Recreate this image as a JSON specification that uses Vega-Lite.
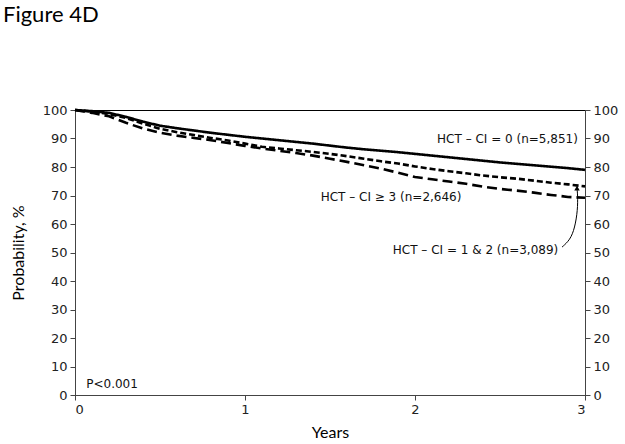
{
  "$schema": "https://vega.github.io/schema/vega-lite/v6.json",
  "width": 510,
  "height": 285,
  "autosize": "none",
  "padding": {"left": 75, "top": 110, "right": 40, "bottom": 49},
  "background": "white",
  "title": {"text": "Figure 4D", "anchor": "start", "frame": "group", "font": "Lato", "fontSize": 22, "fontWeight": "normal", "color": "#000", "dx": -72, "offset": 60, "baseline": "alphabetic"},
  "config": {
    "view": {"stroke": "#000", "strokeWidth": 1},
    "axis": {"grid": false, "domainColor": "#444", "tickColor": "#444", "tickSize": 5, "labelFont": "DejaVu Sans", "labelFontSize": 13, "labelColor": "#222", "titleFont": "Lato", "titleFontSize": 16, "titleFontWeight": "normal", "titleColor": "#000", "labelPadding": 3}
  },
  "datasets": {
    "curves": [
      {"g": "A", "t": 0, "v": 100}, {"g": "A", "t": 0.1, "v": 99.6}, {"g": "A", "t": 0.2, "v": 99.0}, {"g": "A", "t": 0.3, "v": 97.6}, {"g": "A", "t": 0.4, "v": 95.9}, {"g": "A", "t": 0.5, "v": 94.5}, {"g": "A", "t": 0.6, "v": 93.6}, {"g": "A", "t": 0.7, "v": 92.8}, {"g": "A", "t": 0.8, "v": 92.0}, {"g": "A", "t": 0.9, "v": 91.3}, {"g": "A", "t": 1.0, "v": 90.6}, {"g": "A", "t": 1.1, "v": 90.0}, {"g": "A", "t": 1.2, "v": 89.4}, {"g": "A", "t": 1.3, "v": 88.8}, {"g": "A", "t": 1.4, "v": 88.2}, {"g": "A", "t": 1.5, "v": 87.5}, {"g": "A", "t": 1.6, "v": 86.8}, {"g": "A", "t": 1.7, "v": 86.2}, {"g": "A", "t": 1.8, "v": 85.7}, {"g": "A", "t": 1.9, "v": 85.2}, {"g": "A", "t": 2.0, "v": 84.6}, {"g": "A", "t": 2.1, "v": 84.0}, {"g": "A", "t": 2.2, "v": 83.4}, {"g": "A", "t": 2.3, "v": 82.8}, {"g": "A", "t": 2.4, "v": 82.2}, {"g": "A", "t": 2.5, "v": 81.6}, {"g": "A", "t": 2.6, "v": 81.1}, {"g": "A", "t": 2.7, "v": 80.6}, {"g": "A", "t": 2.8, "v": 80.1}, {"g": "A", "t": 2.9, "v": 79.6}, {"g": "A", "t": 3.0, "v": 79.0},
      {"g": "B", "t": 0, "v": 100}, {"g": "B", "t": 0.1, "v": 99.4}, {"g": "B", "t": 0.2, "v": 98.6}, {"g": "B", "t": 0.3, "v": 97.2}, {"g": "B", "t": 0.4, "v": 95.2}, {"g": "B", "t": 0.5, "v": 93.4}, {"g": "B", "t": 0.6, "v": 92.2}, {"g": "B", "t": 0.7, "v": 91.2}, {"g": "B", "t": 0.8, "v": 90.2}, {"g": "B", "t": 0.9, "v": 89.3}, {"g": "B", "t": 1.0, "v": 88.2}, {"g": "B", "t": 1.1, "v": 87.1}, {"g": "B", "t": 1.2, "v": 86.5}, {"g": "B", "t": 1.3, "v": 85.9}, {"g": "B", "t": 1.4, "v": 85.3}, {"g": "B", "t": 1.5, "v": 84.6}, {"g": "B", "t": 1.6, "v": 83.8}, {"g": "B", "t": 1.7, "v": 82.9}, {"g": "B", "t": 1.8, "v": 82.0}, {"g": "B", "t": 1.9, "v": 81.2}, {"g": "B", "t": 2.0, "v": 80.2}, {"g": "B", "t": 2.1, "v": 79.3}, {"g": "B", "t": 2.2, "v": 78.5}, {"g": "B", "t": 2.3, "v": 77.8}, {"g": "B", "t": 2.4, "v": 77.0}, {"g": "B", "t": 2.5, "v": 76.4}, {"g": "B", "t": 2.6, "v": 75.9}, {"g": "B", "t": 2.7, "v": 75.2}, {"g": "B", "t": 2.8, "v": 74.5}, {"g": "B", "t": 2.9, "v": 73.9}, {"g": "B", "t": 3.0, "v": 73.2},
      {"g": "C", "t": 0, "v": 100}, {"g": "C", "t": 0.1, "v": 99.0}, {"g": "C", "t": 0.2, "v": 97.8}, {"g": "C", "t": 0.3, "v": 95.5}, {"g": "C", "t": 0.4, "v": 93.5}, {"g": "C", "t": 0.5, "v": 92.0}, {"g": "C", "t": 0.6, "v": 91.0}, {"g": "C", "t": 0.7, "v": 90.2}, {"g": "C", "t": 0.8, "v": 89.4}, {"g": "C", "t": 0.9, "v": 88.4}, {"g": "C", "t": 1.0, "v": 87.4}, {"g": "C", "t": 1.1, "v": 86.5}, {"g": "C", "t": 1.2, "v": 85.7}, {"g": "C", "t": 1.3, "v": 84.9}, {"g": "C", "t": 1.4, "v": 84.0}, {"g": "C", "t": 1.5, "v": 82.9}, {"g": "C", "t": 1.6, "v": 81.8}, {"g": "C", "t": 1.7, "v": 80.6}, {"g": "C", "t": 1.8, "v": 79.4}, {"g": "C", "t": 1.9, "v": 78.0}, {"g": "C", "t": 2.0, "v": 76.5}, {"g": "C", "t": 2.1, "v": 75.7}, {"g": "C", "t": 2.2, "v": 74.9}, {"g": "C", "t": 2.3, "v": 74.1}, {"g": "C", "t": 2.4, "v": 73.1}, {"g": "C", "t": 2.5, "v": 72.3}, {"g": "C", "t": 2.6, "v": 71.7}, {"g": "C", "t": 2.7, "v": 71.0}, {"g": "C", "t": 2.8, "v": 70.2}, {"g": "C", "t": 2.9, "v": 69.5}, {"g": "C", "t": 3.0, "v": 69.2}
    ],
    "labels": [
      {"t": 2.544, "v": 89.8, "label": "HCT – CI = 0 (n=5,851)"},
      {"t": 1.859, "v": 69.6, "label": "HCT – CI ≥ 3 (n=2,646)"},
      {"t": 2.356, "v": 51.0, "label": "HCT – CI = 1 & 2 (n=3,089)"},
      {"t": 0.218, "v": 3.9, "label": "P<0.001"}
    ],
    "arrow": [
      {"o": 1, "t": 2.865, "v": 51.9},
      {"o": 2, "t": 2.912, "v": 54.4},
      {"o": 3, "t": 2.940, "v": 58.6},
      {"o": 4, "t": 2.957, "v": 64.9},
      {"o": 5, "t": 2.957, "v": 70.2},
      {"o": 6, "t": 2.953, "v": 72.5}
    ],
    "head": [{"t": 2.953, "v": 72.6}]
  },
  "resolve": {"axis": {"y": "independent"}},
  "layer": [
    {
      "data": {"name": "curves"},
      "mark": {"type": "line", "color": "#000", "strokeWidth": 2.6},
      "encoding": {
        "x": {"field": "t", "type": "quantitative", "scale": {"domain": [0, 3], "nice": false}, "axis": {"title": "Years", "values": [0, 1, 2, 3], "format": "d", "titlePadding": 8}},
        "y": {"field": "v", "type": "quantitative", "scale": {"domain": [0, 100], "nice": false}, "axis": {"title": "Probability, %", "values": [0, 10, 20, 30, 40, 50, 60, 70, 80, 90, 100], "titlePadding": 16}},
        "detail": {"field": "g"},
        "strokeDash": {"field": "g", "type": "nominal", "scale": {"domain": ["A", "B", "C"], "range": [[1, 0], [6, 3], [10, 5]]}, "legend": null}
      }
    },
    {
      "data": {"name": "labels"},
      "mark": {"type": "text", "font": "DejaVu Sans", "fontSize": 12, "color": "#111", "align": "center", "baseline": "middle"},
      "encoding": {
        "x": {"field": "t", "type": "quantitative"},
        "y": {"field": "v", "type": "quantitative", "axis": {"orient": "right", "title": null, "values": [0, 10, 20, 30, 40, 50, 60, 70, 80, 90, 100]}},
        "text": {"field": "label"}
      }
    },
    {
      "data": {"name": "arrow"},
      "mark": {"type": "line", "color": "#000", "strokeWidth": 1, "interpolate": "basis"},
      "encoding": {
        "x": {"field": "t", "type": "quantitative"},
        "y": {"field": "v", "type": "quantitative", "axis": null},
        "order": {"field": "o"}
      }
    },
    {
      "data": {"name": "head"},
      "mark": {"type": "point", "shape": "triangle-up", "filled": true, "color": "#000", "size": 30, "opacity": 1},
      "encoding": {
        "x": {"field": "t", "type": "quantitative"},
        "y": {"field": "v", "type": "quantitative", "axis": null}
      }
    }
  ]
}
